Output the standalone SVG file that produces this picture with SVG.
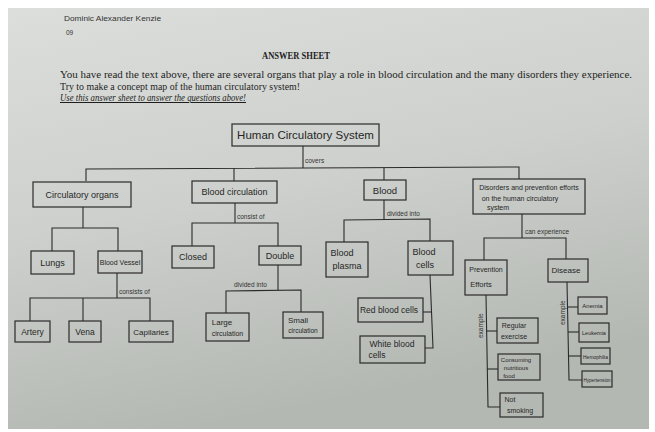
<svg xmlns="http://www.w3.org/2000/svg" width="655" height="432" viewBox="0 0 655 432">
<defs>
<linearGradient id="paper" x1="0" y1="0" x2="0.3" y2="1">
<stop offset="0" stop-color="#dcdedb"/>
<stop offset="0.5" stop-color="#cdd0cc"/>
<stop offset="1" stop-color="#b4b8b3"/>
</linearGradient>
<style>
.box{fill:none;stroke:#2b2b2b;stroke-width:1.2}
.ln{fill:none;stroke:#2b2b2b;stroke-width:1.1}
.t{font-family:"Liberation Sans",Arial,sans-serif;fill:#262626;text-anchor:middle}
.lbl{font-family:"Liberation Sans",Arial,sans-serif;fill:#333;font-size:6.5px}
.pr{font-family:"Liberation Serif","Times New Roman",serif;fill:#1e1e1e}
</style>
</defs>
<rect width="655" height="432" fill="#ffffff"/>
<rect x="8" y="8" width="641" height="421" fill="url(#paper)"/>

<g id="header">
<text class="lbl" x="64" y="21" font-size="8.5" textLength="97" lengthAdjust="spacingAndGlyphs">Dominic Alexander Kenzie</text>
<text class="lbl" x="66" y="35" font-size="8.5">09</text>
<text class="pr" x="262" y="59" font-size="9.5" font-weight="bold" textLength="68" lengthAdjust="spacingAndGlyphs">ANSWER SHEET</text>
<text class="pr" x="60" y="78" font-size="10" textLength="572" lengthAdjust="spacingAndGlyphs">You have read the text above, there are several organs that play a role in blood circulation and the many disorders they experience.</text>
<text class="pr" x="60" y="89.5" font-size="10" textLength="240" lengthAdjust="spacingAndGlyphs">Try to make a concept map of the human circulatory system!</text>
<text class="pr" x="60" y="101" font-size="10" font-style="italic" text-decoration="underline" textLength="186" lengthAdjust="spacingAndGlyphs">Use this answer sheet to answer the questions above!</text>
</g>

<g id="connectors">
<polyline class="ln" points="303,146 303,168"/>
<polyline class="ln" points="86,181 86,169 519,167 519,179"/>
<polyline class="ln" points="234,168 234,181"/>
<polyline class="ln" points="384,168 384,180"/>
<polyline class="ln" points="83,207 83,228"/>
<polyline class="ln" points="52,251 52,228 118,228 118,251"/>
<polyline class="ln" points="117,273 117,298"/>
<polyline class="ln" points="30,321 30,298 150,298 150,321"/>
<polyline class="ln" points="83,298 83,321"/>
<polyline class="ln" points="235,203 235,223"/>
<polyline class="ln" points="192,246 192,223 278,223 278,246"/>
<polyline class="ln" points="278,265 278,290"/>
<polyline class="ln" points="226,313 226,291 301,290 301,312"/>
<polyline class="ln" points="384,200 384,219"/>
<polyline class="ln" points="344,242 344,220 430,219 430,241"/>
<polyline class="ln" points="430,275 433,348 425,348"/>
<polyline class="ln" points="423,312 431,312"/>
<polyline class="ln" points="522,214 522,238"/>
<polyline class="ln" points="484,260 484,238 566,238 566,259"/>
<polyline class="ln" points="486,295 488,407 500,407"/>
<polyline class="ln" points="486,331 497,331"/>
<polyline class="ln" points="487,369 498,369"/>
<polyline class="ln" points="567,282 569,380 582,380"/>
<polyline class="ln" points="567,307 578,307"/>
<polyline class="ln" points="568,332 579,332"/>
<polyline class="ln" points="568,356 581,356"/>
<text class="lbl" x="305" y="163">covers</text>
<text class="lbl" x="237" y="219">consist of</text>
<text class="lbl" x="119" y="294">consists of</text>
<text class="lbl" x="234" y="287">divided into</text>
<text class="lbl" x="387" y="216">divided into</text>
<text class="lbl" x="525" y="234">can experience</text>
<text class="lbl" transform="translate(483,338) rotate(-90)">example</text>
<text class="lbl" transform="translate(565,325) rotate(-90)">example</text>
</g>

<g id="n-title"><rect class="box" x="232" y="124" width="147" height="22"/><text class="t" x="305.5" y="139" font-size="11.5">Human Circulatory System</text></g>
<g id="n-circ-organs"><rect class="box" x="33" y="182" width="98" height="25"/><text class="t" x="82" y="198" font-size="9">Circulatory organs</text></g>
<g id="n-blood-circulation"><rect class="box" x="192" y="181" width="85" height="22"/><text class="t" x="234.5" y="195" font-size="9">Blood circulation</text></g>
<g id="n-blood"><rect class="box" x="364" y="180" width="42" height="20"/><text class="t" x="385" y="194" font-size="9.5">Blood</text></g>
<g id="n-disorders"><rect class="box" x="473" y="179" width="112" height="35"/>
<text class="t" x="529" y="190" font-size="7">Disorders and prevention efforts</text>
<text class="t" x="520" y="201" font-size="7">on the human circulatory</text>
<text class="t" x="498" y="210" font-size="7">system</text></g>
<g id="n-lungs"><rect class="box" x="31" y="251" width="43" height="23"/><text class="t" x="52.5" y="266" font-size="9">Lungs</text></g>
<g id="n-blood-vessel"><rect class="box" x="98" y="251" width="44" height="22"/><text class="t" x="120" y="265" font-size="7">Blood Vessel</text></g>
<g id="n-artery"><rect class="box" x="15" y="321" width="35" height="21"/><text class="t" x="32.5" y="335" font-size="8.5">Artery</text></g>
<g id="n-vena"><rect class="box" x="69" y="321" width="32" height="21"/><text class="t" x="85" y="335" font-size="8.5">Vena</text></g>
<g id="n-capilaries"><rect class="box" x="129" y="321" width="44" height="21"/><text class="t" x="151" y="335" font-size="8">Capilaries</text></g>
<g id="n-closed"><rect class="box" x="172" y="246" width="42" height="22"/><text class="t" x="193" y="260" font-size="9">Closed</text></g>
<g id="n-double"><rect class="box" x="259" y="246" width="42" height="19"/><text class="t" x="280" y="259" font-size="9">Double</text></g>
<g id="n-large"><rect class="box" x="206" y="313" width="43" height="28"/><text class="t" x="222" y="325" font-size="8">Large</text><text class="t" x="227.5" y="336" font-size="7">circulation</text></g>
<g id="n-small"><rect class="box" x="283" y="312" width="40" height="26"/><text class="t" x="298" y="323" font-size="8">Small</text><text class="t" x="303" y="333" font-size="6.5">circulation</text></g>
<g id="n-plasma"><rect class="box" x="326" y="242" width="42" height="35"/><text class="t" x="342" y="256" font-size="9">Blood</text><text class="t" x="347" y="269" font-size="9">plasma</text></g>
<g id="n-cells"><rect class="box" x="408" y="241" width="45" height="34"/><text class="t" x="424" y="255" font-size="9">Blood</text><text class="t" x="425" y="268" font-size="9">cells</text></g>
<g id="n-red"><rect class="box" x="358" y="298" width="65" height="24"/><text class="t" x="389" y="313" font-size="8.5">Red blood cells</text></g>
<g id="n-white"><rect class="box" x="360" y="336" width="65" height="27"/><text class="t" x="392" y="347" font-size="8.5">White blood</text><text class="t" x="377" y="358" font-size="8.5">cells</text></g>
<g id="n-prevention"><rect class="box" x="465" y="260" width="42" height="35"/><text class="t" x="486" y="272" font-size="7">Prevention</text><text class="t" x="481" y="287" font-size="7.5">Efforts</text></g>
<g id="n-disease"><rect class="box" x="548" y="259" width="40" height="23"/><text class="t" x="566" y="273" font-size="8">Disease</text></g>
<g id="n-regular"><rect class="box" x="497" y="318" width="41" height="25"/><text class="t" x="514" y="328" font-size="7">Regular</text><text class="t" x="514" y="339" font-size="7">exercise</text></g>
<g id="n-consuming"><rect class="box" x="498" y="354" width="42" height="26"/><text class="t" x="516" y="362" font-size="6">Consuming</text><text class="t" x="516" y="370" font-size="6">nutritious</text><text class="t" x="509" y="378" font-size="6">food</text></g>
<g id="n-smoking"><rect class="box" x="500" y="393" width="43" height="24"/><text class="t" x="510" y="402" font-size="7">Not</text><text class="t" x="520" y="413" font-size="7">smoking</text></g>
<g id="n-anemia"><rect class="box" x="578" y="297" width="29" height="17"/><text class="t" x="592.5" y="308" font-size="6">Anemia</text></g>
<g id="n-leukemia"><rect class="box" x="579" y="323" width="30" height="19"/><text class="t" x="594" y="335" font-size="5.5">Leukemia</text></g>
<g id="n-hemophilia"><rect class="box" x="581" y="348" width="29" height="16"/><text class="t" x="595.5" y="358.5" font-size="5">Hemophilia</text></g>
<g id="n-hypertension"><rect class="box" x="582" y="371" width="30" height="16"/><text class="t" x="597" y="381.5" font-size="4.6">Hypertension</text></g>
</svg>
